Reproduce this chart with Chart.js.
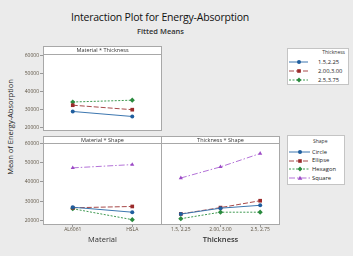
<!DOCTYPE html>
<html>
<head>
<meta charset="utf-8">
<script src="https://cdn.jsdelivr.net/npm/chart.js@4.4.1/dist/chart.umd.min.js"></script>
<style>
  body { margin: 0; width: 353px; height: 256px; background: #ebebeb; overflow: hidden; position: relative; font-family: "Open Sans", sans-serif; color: #222; }
  .abs { position: absolute; }
  .title { left: 0; width: 320px; top: 10px; text-align: center; font-size: 10.5px; letter-spacing: -0.2px; color: #111; }
  .subtitle { left: 0; width: 321px; top: 26px; text-align: center; font-size: 7.5px; font-weight: 600; color: #333; }
  .ylab { left: 10px; top: 127px; font-size: 7.5px; white-space: nowrap; transform: translate(-50%, -50%) rotate(-90deg); color: #222; }
  .legend { background: #fff; border: 1px solid #c4c4c4; box-sizing: border-box; }
  .legend .lt { position: absolute; font-size: 5px; color: #333; white-space: nowrap; }
  .legend .row { position: absolute; left: 0; height: 8px; white-space: nowrap; }
  .legend .row svg { position: absolute; left: 0; top: 0; }
  .legend .row span { position: absolute; top: -0.5px; font-size: 5.8px; line-height: 8px; color: #222; }
</style>
</head>
<body>
<div class="abs title">Interaction Plot for Energy-Absorption</div>
<div class="abs subtitle">Fitted Means</div>
<div class="abs ylab">Mean of Energy-Absorption</div>

<div class="abs" style="left:0;top:46px;width:163px;height:89px"><canvas id="mt"></canvas></div>
<div class="abs" style="left:0;top:136px;width:163px;height:120px"><canvas id="ms"></canvas></div>
<div class="abs" style="left:161px;top:136px;width:119px;height:120px"><canvas id="ts"></canvas></div>

<div class="abs legend" id="legThick" style="left:287px;top:48px;width:62px;height:37px"></div>
<div class="abs legend" id="legShape" style="left:287px;top:135px;width:58px;height:50px"></div>

<script>
// categories
const materials = ['AL6061', 'HSLA'];
const thicknessTicks = ['1.5, 2.25', '2.00, 3.00', '2.5, 2.75'];
const thicknessNames = ['1.5,2.25', '2.00,3.00', '2.5,3.75'];
const shapes = ['Circle', 'Ellipse', 'Hexagon', 'Square'];
const yTicks = [20000, 30000, 40000, 50000, 60000];

// Material * Thickness (one list per thickness, over materials)
const mtThin = [28800, 26000];
const mtMid = [32300, 29800];
const mtThick = [34100, 35100];

// Material * Shape (one list per shape, over materials)
const msCircle = [26800, 24200];
const msEllipse = [26500, 27200];
const msHexagon = [26000, 20300];
const msSquare = [47400, 49100];

// Thickness * Shape (one list per shape, over thickness)
const tsCircle = [23200, 26300, 27800];
const tsEllipse = [23300, 26600, 30200];
const tsHexagon = [20800, 24200, 24200];
const tsSquare = [42100, 47900, 54900];

// series styles
const colors = ['#1f5e9e', '#9b2b2b', '#2a8a3e', '#9c4ac6'];
const lineColors = ['#3d77b0', '#a84a4a', '#3f9a52', '#b473d8'];
const dashes = [[], [5, 2], [2, 1.5], [6, 2, 1.5, 2]];
const markers = ['circle', 'rect', 'rectRot', 'triangle'];
const radii = [2, 2.6, 2.6, 2.4];

const tickFont = { family: '"Open Sans", sans-serif', size: 5 };
const tickColor = '#5e5444';

const panelFrame = {
  id: 'panelFrame',
  beforeDraw(chart, args, opts) {
    const { ctx, chartArea: a } = chart;
    ctx.save();
    ctx.fillStyle = '#fff';
    ctx.fillRect(a.left, a.top - opts.strip, a.right - a.left, a.bottom - a.top + opts.strip);
    ctx.restore();
  },
  afterDraw(chart, args, opts) {
    const { ctx, chartArea: a } = chart;
    ctx.save();
    ctx.strokeStyle = '#a8a8a8';
    ctx.lineWidth = 1;
    ctx.strokeRect(a.left + 0.5, a.top + 0.5, a.right - a.left - 1, a.bottom - a.top - 1);
    ctx.strokeRect(a.left + 0.5, a.top - opts.strip + 0.5, a.right - a.left - 1, opts.strip);
    ctx.fillStyle = '#333';
    ctx.font = '5.5px "Open Sans", sans-serif';
    ctx.textAlign = 'center';
    ctx.textBaseline = 'middle';
    ctx.fillText(opts.text, (a.left + a.right) / 2, a.top - opts.strip / 2 + 0.5);
    ctx.restore();
  }
};

function makeSets(lists, names) {
  return lists.map((vals, i) => ({
    label: names[i],
    data: vals,
    borderColor: lineColors[i],
    backgroundColor: colors[i],
    pointBackgroundColor: colors[i],
    pointBorderColor: colors[i],
    pointBorderWidth: 0,
    borderWidth: 1,
    borderDash: dashes[i],
    pointStyle: markers[i],
    pointRadius: radii[i],
    tension: 0
  }));
}

function makeChart(id, labels, sets, cfg) {
  return new Chart(document.getElementById(id), {
    type: 'line',
    data: { labels: labels, datasets: sets },
    plugins: [panelFrame],
    options: {
      responsive: true,
      maintainAspectRatio: false,
      animation: false,
      layout: { autoPadding: false, padding: { top: cfg.strip, right: cfg.padRight, bottom: 0, left: 0 } },
      plugins: {
        legend: { display: false },
        tooltip: { enabled: false },
        panelFrame: { strip: cfg.strip, text: cfg.header }
      },
      scales: {
        x: {
          type: 'category',
          offset: true,
          display: cfg.showX,
          grid: { drawOnChartArea: false, drawTicks: true, tickLength: 2, color: '#999' },
          border: { display: false },
          ticks: { font: tickFont, color: tickColor, padding: 0, maxRotation: 0, autoSkip: false },
          title: { display: cfg.showX, text: cfg.xTitle, color: '#333', font: { family: '"Open Sans", sans-serif', size: 7.5, weight: cfg.xBold ? '600' : '400' }, padding: { top: 0, bottom: 11.5 } },
          afterFit: s => { s.height = cfg.showX ? 31 : 0; }
        },
        y: {
          min: cfg.yMin,
          max: cfg.yMax,
          display: cfg.showY,
          grid: { drawOnChartArea: false, drawTicks: true, tickLength: 3, color: '#999' },
          border: { display: false },
          afterBuildTicks: s => { s.ticks = yTicks.map(v => ({ value: v })); },
          ticks: { font: tickFont, color: tickColor, padding: 1, callback: v => String(v) },
          afterFit: s => { s.width = cfg.showY ? 43 : 0; }
        }
      }
    }
  });
}

makeChart('mt', materials, makeSets([mtThin, mtMid, mtThick], thicknessNames),
  { strip: 8, padRight: 1, header: 'Material * Thickness', showX: false, showY: true, yMin: 17900, yMax: 60900 });
makeChart('ms', materials, makeSets([msCircle, msEllipse, msHexagon, msSquare], shapes),
  { strip: 7, padRight: 1, header: 'Material * Shape', showX: true, xTitle: 'Material', showY: true, yMin: 17500, yMax: 60400 });
makeChart('ts', thicknessTicks, makeSets([tsCircle, tsEllipse, tsHexagon, tsSquare], shapes),
  { strip: 7, padRight: 0, header: 'Thickness * Shape', showX: true, xTitle: 'Thickness', xBold: true, showY: false, yMin: 17500, yMax: 60400 });

function markerSvg(kind, color, cx, cy) {
  if (kind === 'circle') return `<circle cx="${cx}" cy="${cy}" r="2" fill="${color}"/>`;
  if (kind === 'rect') return `<rect x="${cx - 1.8}" y="${cy - 1.8}" width="3.6" height="3.6" fill="${color}"/>`;
  if (kind === 'rectRot') return `<polygon points="${cx},${cy - 2.4} ${cx + 2.4},${cy} ${cx},${cy + 2.4} ${cx - 2.4},${cy}" fill="${color}"/>`;
  return `<polygon points="${cx},${cy - 2.3} ${cx + 2.3},${cy + 1.7} ${cx - 2.3},${cy + 1.7}" fill="${color}"/>`;
}

function buildLegend(id, title, names, lay) {
  const box = document.getElementById(id);
  let html = `<div class="lt" style="${lay.titleStyle}">${title}</div>`;
  names.forEach((name, i) => {
    const y = lay.rowTop + i * lay.rowStep;
    html += `<div class="row" style="top:${y}px">
      <svg width="${lay.lineEnd + 2}" height="8">
        <line x1="1" y1="4" x2="${lay.lineEnd}" y2="4" stroke="${lineColors[i]}" stroke-width="1" stroke-dasharray="${dashes[i].join(' ')}"/>
        ${markerSvg(markers[i], colors[i], lay.mark, 4)}
      </svg>
      <span style="left:${lay.textLeft}px">${name}</span></div>`;
  });
  box.innerHTML = html;
}

buildLegend('legThick', 'Thickness', thicknessNames,
  { titleStyle: 'right:3px;top:0px', rowTop: 9, rowStep: 9, lineEnd: 20, mark: 11, textLeft: 30 });
buildLegend('legShape', 'Shape', shapes,
  { titleStyle: 'left:25px;top:2px', rowTop: 12, rowStep: 8.7, lineEnd: 22, mark: 12, textLeft: 24 });
</script>
</body>
</html>
